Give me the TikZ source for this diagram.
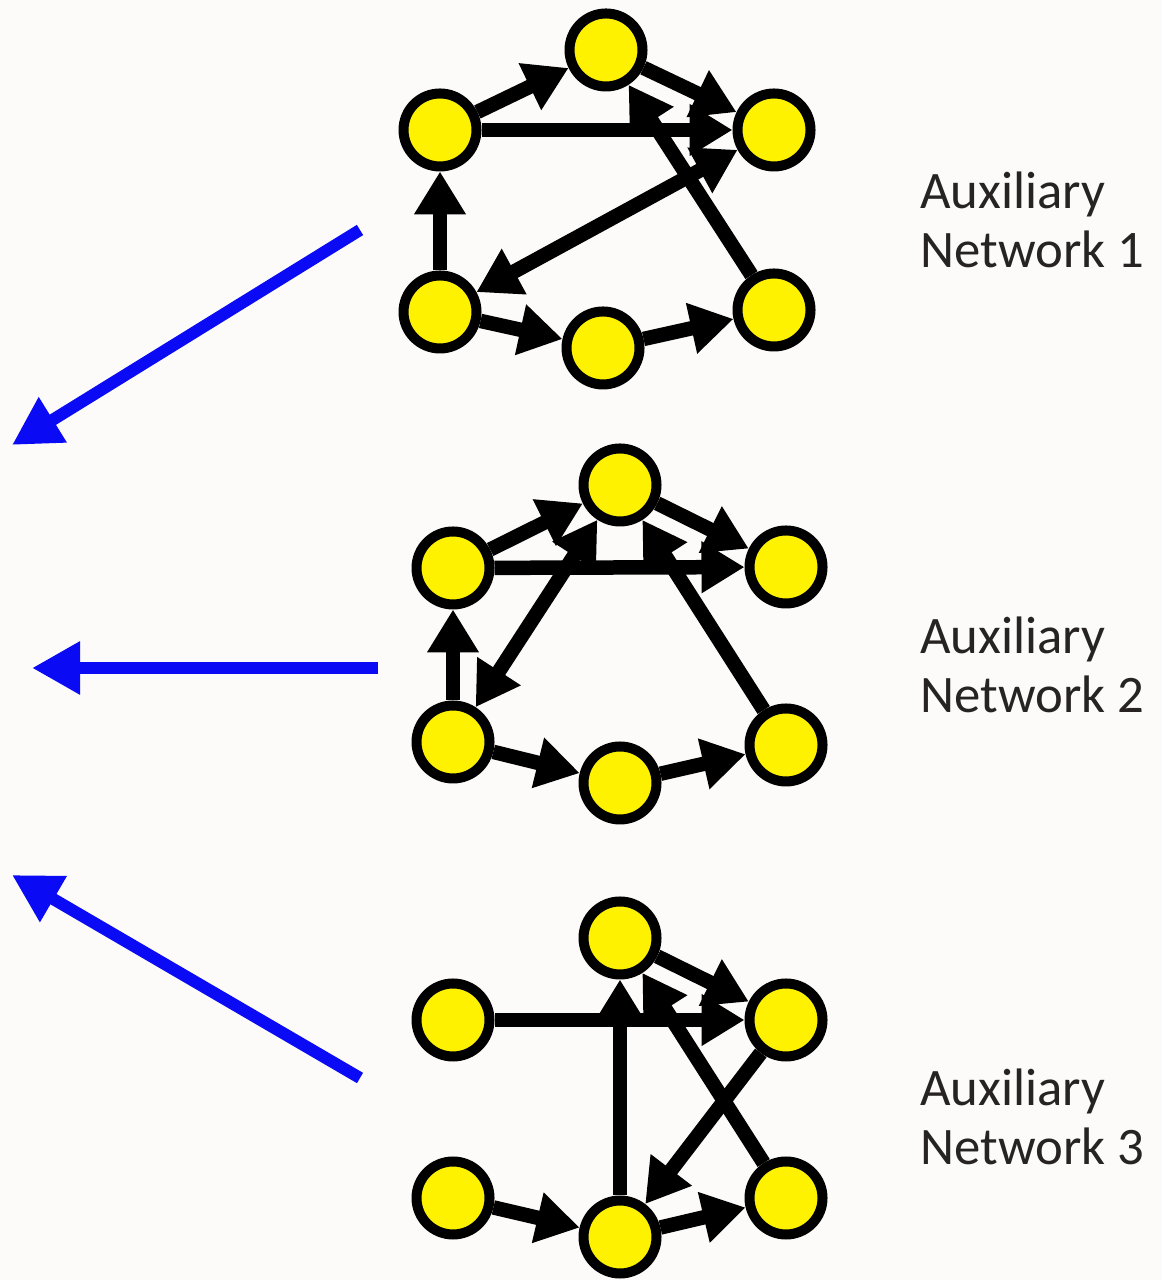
\documentclass[tikz,border=0pt]{standalone}
\usepackage{fontspec}
\setmainfont{Carlito}
\usetikzlibrary{arrows.meta}
\definecolor{Paper}{HTML}{FCFBF9}
\definecolor{Dot}{HTML}{FFF200}
\definecolor{Ink}{HTML}{000000}
\definecolor{Pointer}{HTML}{0A0AF5}
\definecolor{Caption}{HTML}{262322}
\tikzset{
  vertex/.style={circle,draw=Ink,fill=Dot,line width=1mm,minimum size=7.3mm,inner sep=0pt},
  link/.style={-{Triangle[length=4.3mm,width=4.9mm]},draw=Ink,line width=1.45mm},
  twoway/.style={{Triangle[length=4.3mm,width=4.9mm]}-{Triangle[length=4.3mm,width=4.9mm]},draw=Ink,line width=1.45mm},
  pointer/.style={-{Triangle[length=4.8mm,width=5mm]},draw=Pointer,line width=1.2mm},
  caption/.style={anchor=west,align=left,text=Caption,font=\fontsize{15}{17}\selectfont}
}

\begin{document}
\begin{tikzpicture}
        \fill[Paper] (0,0) rectangle (11.62,12.8);
        \useasboundingbox (0,0) rectangle (11.62,12.8);
        % first auxiliary network
        \node[vertex] (a1) at (4.40,11.50) {};
        \node[vertex] (t1) at (6.06,12.30) {};
        \node[vertex] (r1) at (7.74,11.50) {};
        \node[vertex] (l1) at (4.40,9.68) {};
        \node[vertex] (b1) at (6.03,9.32) {};
        \node[vertex] (s1) at (7.74,9.70) {};
        \draw[link] (a1)--(t1);
        \draw[link] (t1)--(r1);
        \draw[link] (a1)--(r1);
        \draw[link] (l1)--(a1);
        \draw[link] (s1)--(t1);
        \draw[twoway] (l1)--(r1);
        \draw[link] (l1)--(b1);
        \draw[link] (b1)--(s1);
        % second auxiliary network
        \node[vertex] (a2) at (4.53,7.12) {};
        \node[vertex] (t2) at (6.20,7.95) {};
        \node[vertex] (r2) at (7.86,7.13) {};
        \node[vertex] (l2) at (4.53,5.38) {};
        \node[vertex] (b2) at (6.20,4.97) {};
        \node[vertex] (s2) at (7.86,5.35) {};
        \draw[link] (a2)--(t2);
        \draw[link] (t2)--(r2);
        \draw[link] (a2)--(r2);
        \draw[link] (l2)--(a2);
        \draw[link] (s2)--(t2);
        \draw[twoway] (l2)--(t2);
        \draw[link] (l2)--(b2);
        \draw[link] (b2)--(s2);
        % third auxiliary network
        \node[vertex] (a3) at (4.53,2.60) {};
        \node[vertex] (t3) at (6.20,3.42) {};
        \node[vertex] (r3) at (7.86,2.60) {};
        \node[vertex] (l3) at (4.53,0.82) {};
        \node[vertex] (b3) at (6.20,0.43) {};
        \node[vertex] (s3) at (7.86,0.82) {};
        \draw[link] (t3)--(r3);
        \draw[link] (a3)--(r3);
        \draw[link] (b3)--(t3);
        \draw[link] (s3)--(t3);
        \draw[link] (r3)--(b3);
        \draw[link] (l3)--(b3);
        \draw[link] (b3)--(s3);
        % captions
        \node[caption] (cap1) at (9.08,10.60) {Auxiliary\\Network 1};
        \node[caption] (cap2) at (9.08,6.15) {Auxiliary\\Network 2};
        \node[caption] (cap3) at (9.08,1.63) {Auxiliary\\Network 3};
        % blue pointers to the left
        \coordinate (p1) at (3.60,10.50);
        \coordinate (q1) at (0.12,8.35);
        \coordinate (p2) at (3.78,6.12);
        \coordinate (q2) at (0.32,6.12);
        \coordinate (p3) at (3.60,2.02);
        \coordinate (q3) at (0.12,4.05);
        \draw[pointer] (p1)--(q1);
        \draw[pointer] (p2)--(q2);
        \draw[pointer] (p3)--(q3);
      \end{tikzpicture}
\end{document}
